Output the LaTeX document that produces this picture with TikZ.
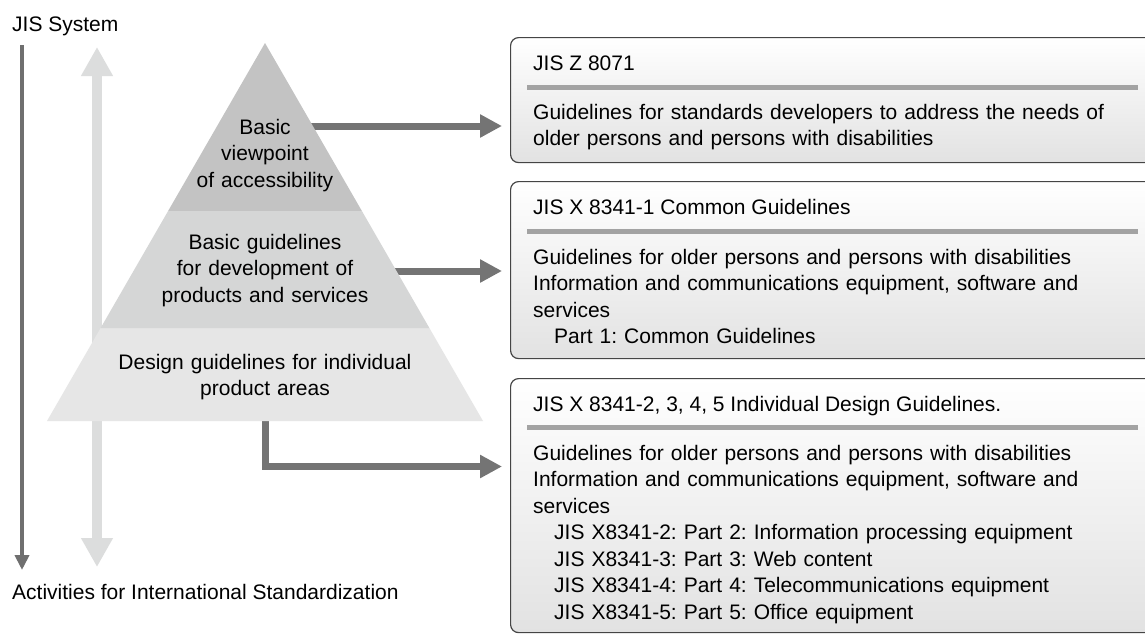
\documentclass[tikz,border=0pt]{standalone}
\usepackage{fontspec}
\setmainfont{Liberation Sans}
\usetikzlibrary{arrows.meta,calc,positioning}
\frenchspacing

\definecolor{topgray}{HTML}{C3C3C3}
\definecolor{midgray}{HTML}{D5D6D6}
\definecolor{basegray}{HTML}{E6E6E6}
\definecolor{paleband}{HTML}{DCDDDD}
\definecolor{linkgray}{HTML}{747474}
\definecolor{sysgray}{HTML}{6F6F6F}
\definecolor{boxline}{HTML}{454545}
\definecolor{boxfoot}{HTML}{E2E2E2}
\definecolor{bargray}{HTML}{A3A3A3}

\begin{document}
\begin{tikzpicture}[x=1pt,y=-1pt,
    every node/.style={font=\fontsize{21}{26.5}\selectfont,inner sep=0pt},
    layer text/.style={text width=320pt,align=center,anchor=base},
    link/.style={draw=linkgray,line width=7pt,-{Triangle[length=22pt,width=22pt]}},
    doc box/.style={draw=boxline,line width=1.2pt,rounded corners=8pt,
                    top color=white,bottom color=boxfoot,minimum width=660pt,anchor=north west},
    doc text/.style={text width=600pt,align=left,anchor=base west},
    sep bar/.style={draw=bargray,line width=5pt}]
\fill[white] (0,0) rectangle (1145,633);
\useasboundingbox (0,0) rectangle (1145,633);
\clip (0,0) rectangle (1145,633);

% side labels and the two long arrows
\node[anchor=base west] (jis sys) at (12,31) {JIS System};
\node[anchor=base west] (intl) at (12,599) {Activities for International Standardization};
\coordinate (sys top) at (22,45);
\coordinate (sys end) at (22,570);
\draw[draw=sysgray,line width=4.5pt,-{Triangle[length=15pt,width=14pt]}] (sys top) -- (sys end);
\coordinate (band top) at (97,47);
\coordinate (band end) at (97,567);
\draw[draw=paleband,line width=10pt,{Triangle[length=29pt,width=30pt]}-{Triangle[length=29pt,width=30pt]}]
    (band top) -- (band end);

% standards boxes
\node[doc box,minimum height=125pt] (z8071) at (510,37) {};
\node[anchor=base west] (z8071 head) at (533,70) {JIS Z 8071};
\draw[sep bar] (527,87) -- (1138,87);
\node[doc text] (z8071 body) at (533,119)
    {Guidelines for standards developers to address the needs of\\
     older persons and persons with disabilities};

\node[doc box,minimum height=177pt] (common) at (510,181) {};
\node[anchor=base west] (common head) at (533,214) {JIS X 8341-1 Common Guidelines};
\draw[sep bar] (527,231) -- (1138,231);
\node[doc text] (common body) at (533,264)
    {Guidelines for older persons and persons with disabilities\\
     Information and communications equipment, software and\\
     services\\
     \hspace*{21pt}Part 1: Common Guidelines};

\node[doc box,minimum height=254pt] (indiv) at (510,378) {};
\node[anchor=base west] (indiv head) at (533,411) {JIS X 8341-2, 3, 4, 5 Individual Design Guidelines.};
\draw[sep bar] (527,427) -- (1138,427);
\node[doc text] (indiv body) at (533,460)
    {Guidelines for older persons and persons with disabilities\\
     Information and communications equipment, software and\\
     services\\
     \hspace*{21pt}JIS X8341-2: Part 2: Information processing equipment\\
     \hspace*{21pt}JIS X8341-3: Part 3: Web content\\
     \hspace*{21pt}JIS X8341-4: Part 4: Telecommunications equipment\\
     \hspace*{21pt}JIS X8341-5: Part 5: Office equipment};

% arrows from the pyramid levels
\coordinate (view out) at (300,126);
\coordinate (dev out) at (385,271);
\coordinate (area out) at (265,410);
\coordinate (area turn) at (265,466.5);
\draw[link,shorten >=8pt] (view out) -- (view out -| z8071.west);
\draw[link,shorten >=8pt] (dev out) -- (dev out -| common.west);
\draw[link,shorten >=8pt] (area out) -- (area turn) -- (area turn -| indiv.west);

% pyramid
\coordinate (apex) at (265,43);
\coordinate (base l) at (47,421);
\coordinate (base r) at (483,421);
\fill[basegray] ($(apex)!0.754!(base l)$) -- ($(apex)!0.754!(base r)$) -- (base r) -- (base l) -- cycle;
\fill[midgray] ($(apex)!0.4444!(base l)$) -- ($(apex)!0.4444!(base r)$)
    -- ($(apex)!0.754!(base r)$) -- ($(apex)!0.754!(base l)$) -- cycle;
\fill[topgray] (apex) -- ($(apex)!0.4444!(base r)$) -- ($(apex)!0.4444!(base l)$) -- cycle;

\node[layer text] (viewpoint) at (265,134) {Basic\\viewpoint\\of accessibility};
\node[layer text] (development) at (265,249) {Basic guidelines\\for development of\\products and services};
\node[layer text] (areas) at (265,369) {Design guidelines for individual\\product areas};
\end{tikzpicture}
\end{document}
